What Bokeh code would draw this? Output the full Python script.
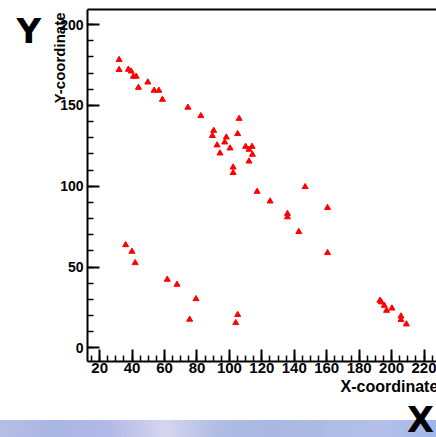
import math
from bokeh.plotting import figure
from bokeh.layouts import column
from bokeh.models import (LinearAxis, SingleIntervalTicker, FixedTicker, Label,
                          ColumnDataSource, Range1d, Div)
from bokeh.embed import file_html
from bokeh.resources import INLINE

# ---- data ----
x_vals = [32.0, 32.0, 37.7, 39.4, 40.8, 42.5, 43.9, 49.7, 53.6, 56.5, 58.7,
          74.4, 82.4, 106.0, 90.3, 89.5, 98.1, 97.1, 105.1, 92.4, 100.4, 94.2,
          110.0, 114.0, 112.1, 114.2, 112.1, 102.3, 102.3, 117.1, 125.1,
          36.0, 39.9, 41.9, 61.7, 67.7, 79.4, 75.5, 105.1, 103.9,
          146.7, 160.5, 135.8, 135.8, 142.8, 160.5,
          192.8, 193.7, 195.5, 196.9, 200.2, 205.8, 205.8, 209.1]
y_vals = [178.2, 172.0, 172.2, 171.1, 167.9, 167.9, 161.0, 164.3, 159.2, 159.2, 153.6,
          148.7, 143.5, 141.8, 134.4, 131.2, 130.3, 127.2, 132.4, 125.4, 123.5, 120.4,
          124.5, 124.5, 122.7, 119.6, 115.4, 111.7, 108.3, 96.7, 90.7,
          63.7, 59.6, 52.6, 42.3, 39.2, 30.3, 17.6, 20.5, 15.5,
          99.6, 86.7, 83.0, 80.9, 71.8, 58.8,
          29.3, 28.3, 26.2, 23.1, 24.5, 19.6, 17.4, 14.7]
x_title = "X-coordinate"
y_title = "Y-coordinate"
big_x = "X"
big_y = "Y"

W, H_FIG, H_BAND = 436, 420, 17
FONT = "Liberation Sans"

p = figure(width=W, height=H_FIG, output_backend="svg", toolbar_location=None,
           x_range=Range1d(12.5, 227.7), y_range=Range1d(-8.4, 209.3),
           x_axis_location=None, y_axis_location=None,
           min_border_left=87, min_border_right=0, min_border_top=9,
           min_border_bottom=H_FIG - 361)
p.outline_line_color = None
p.background_fill_color = "white"
p.border_fill_color = "white"
p.xgrid.visible = False
p.ygrid.visible = False

xaxis = LinearAxis(ticker=SingleIntervalTicker(interval=20, num_minor_ticks=4))
yaxis = LinearAxis(ticker=SingleIntervalTicker(interval=50, num_minor_ticks=5))
topaxis = LinearAxis(ticker=FixedTicker(ticks=[], minor_ticks=[]))

for ax in (xaxis, yaxis):
    ax.axis_line_color = "black"
    ax.axis_line_width = 2
    ax.major_tick_in = 12
    ax.major_tick_out = 0
    ax.minor_tick_in = 6
    ax.minor_tick_out = 0
    ax.major_tick_line_width = 2
    ax.minor_tick_line_width = 1.5
    ax.major_tick_line_color = "black"
    ax.minor_tick_line_color = "black"
    ax.major_label_text_font = FONT
    ax.major_label_text_font_style = "bold"
    ax.major_label_text_color = "black"
xaxis.major_label_text_font_size = "15px"
xaxis.major_label_standoff = 1
yaxis.major_label_text_font_size = "14px"
yaxis.major_label_standoff = 4

topaxis.axis_line_color = "black"
topaxis.axis_line_width = 2
topaxis.major_tick_in = 0
topaxis.major_tick_out = 0
topaxis.minor_tick_in = 0
topaxis.minor_tick_out = 0
topaxis.major_label_standoff = 0

p.add_layout(xaxis, "below")
p.add_layout(yaxis, "left")
p.add_layout(topaxis, "above")

src = ColumnDataSource(dict(x=x_vals, y=y_vals))
p.scatter("x", "y", source=src, marker="triangle", size=6,
          fill_color="red", line_color="red")

# panel labels (canvas units; vertical anchor acts as the glyph middle)
p.add_layout(Label(x=340, y=386, x_units="canvas", y_units="canvas",
                   text=x_title, text_font=FONT, text_font_style="bold",
                   text_font_size="16px", text_align="left",
                   text_baseline="middle", text_color="black"), "below")
p.add_layout(Label(x=59, y=12, x_units="canvas", y_units="canvas",
                   text=y_title, angle=math.pi / 2,
                   text_font=FONT, text_font_style="bold", text_font_size="15px",
                   text_align="right", text_baseline="middle",
                   text_color="black"), "left")
p.add_layout(Label(x=16, y=30, x_units="canvas", y_units="canvas",
                   text=big_y, text_font="DejaVu Sans", text_font_style="bold",
                   text_font_size="34px", text_align="left",
                   text_baseline="middle", text_color="black"), "left")

# decorative slide band at the bottom, with the large "X" sitting on it
gradient = ("linear-gradient(to right, #b6bee6 0%, #aab6e2 12%, #b3b8e8 25%, "
            "#d6d6ee 38%, #b0bce4 50%, #a9b8e2 62%, #aebbe4 75%, #b4c0e8 88%, "
            "#9fb6ea 100%)")
band = Div(text=("<span style=\"position:absolute; left:407px; top:-17px; "
                 "font-family:'DejaVu Sans'; font-weight:bold; font-size:35px; "
                 "line-height:35px; color:black;\">" + big_x + "</span>"),
           width=W, height=H_BAND, margin=0,
           styles={"background": gradient, "overflow": "visible",
                   "position": "relative"})

layout = column(p, band, spacing=0)
open("out.html", "w").write(file_html(layout, INLINE))
